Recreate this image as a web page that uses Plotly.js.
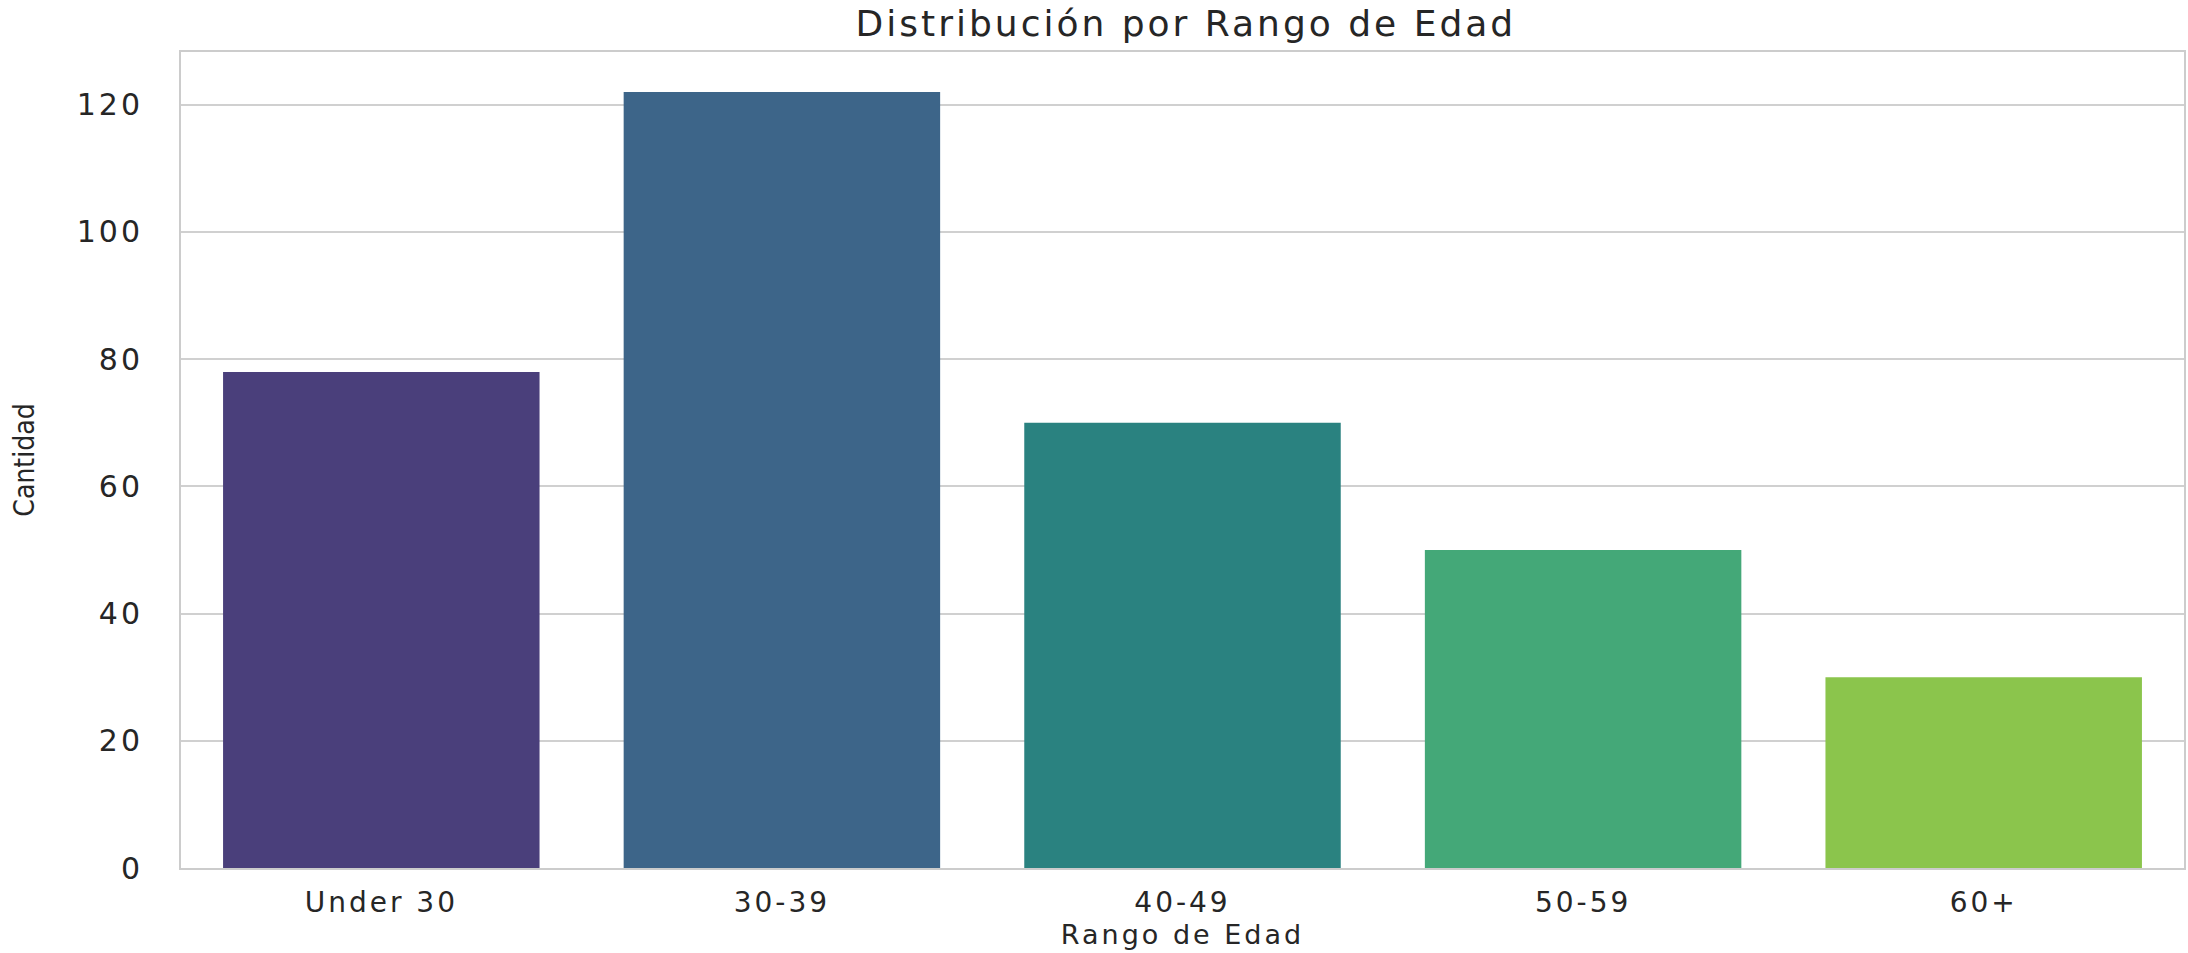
<!DOCTYPE html>
<html>
<head>
<meta charset="utf-8">
<script src="https://cdn.plot.ly/plotly-3.0.1.min.js"></script>
<style>
html, body { margin: 0; padding: 0; background: #ffffff; }
#chart { width: 2188px; height: 953px; }
.xtick text { letter-spacing: 3px; }
.ytick text { letter-spacing: 3px; }
.gtitle { letter-spacing: 3px; }
.g-xtitle text { letter-spacing: 3px; }
</style>
</head>
<body>
<div id="chart"></div>
<script>
const categories = ["Under 30", "30-39", "40-49", "50-59", "60+"];
const counts = [78, 122, 70, 50, 30];
const barColors = ["#4a3f7b", "#3d6589", "#2a8280", "#44a878", "#8bc54c"];
const yTicks = [0, 20, 40, 60, 80, 100, 120];

const trace = {
  type: "bar",
  x: categories,
  y: counts,
  marker: { color: barColors, line: { width: 0 } },
  width: 0.79,
  hoverinfo: "x+y"
};

const layout = {
  width: 2188,
  height: 953,
  paper_bgcolor: "#ffffff",
  plot_bgcolor: "#ffffff",
  margin: { l: 181, r: 4, t: 52, b: 85 },
  showlegend: false,
  font: { family: "DejaVu Sans, sans-serif", color: "#262626" },
  title: {
    text: "Distribución por Rango de Edad",
    font: { family: "DejaVu Sans, sans-serif", size: 36, color: "#262626" },
    x: 0.542, xanchor: "center",
    y: 0.975, yanchor: "middle"
  },
  xaxis: {
    type: "category",
    title: { text: "Rango de Edad", font: { size: 27, color: "#262626" }, standoff: 6 },
    tickfont: { size: 28, color: "#262626" },
    showgrid: false,
    showline: true, linecolor: "#cccccc", linewidth: 2, mirror: true,
    ticks: "", ticklabelstandoff: 8,
    zeroline: false
  },
  yaxis: {
    title: { text: "Cantidad", font: { family: "DejaVu Sans Condensed, Liberation Sans Narrow, sans-serif", size: 28, color: "#262626" }, standoff: 34 },
    range: [0, 128.3],
    tickvals: yTicks,
    ticktext: yTicks.map(String),
    tickfont: { size: 30, color: "#262626" },
    showgrid: true, gridcolor: "#d0d0d0", gridwidth: 2,
    showline: true, linecolor: "#cccccc", linewidth: 2, mirror: true,
    ticks: "", ticklabelstandoff: 30,
    zeroline: false
  }
};

Plotly.newPlot("chart", [trace], layout, { displayModeBar: false, staticPlot: true });
</script>
</body>
</html>
